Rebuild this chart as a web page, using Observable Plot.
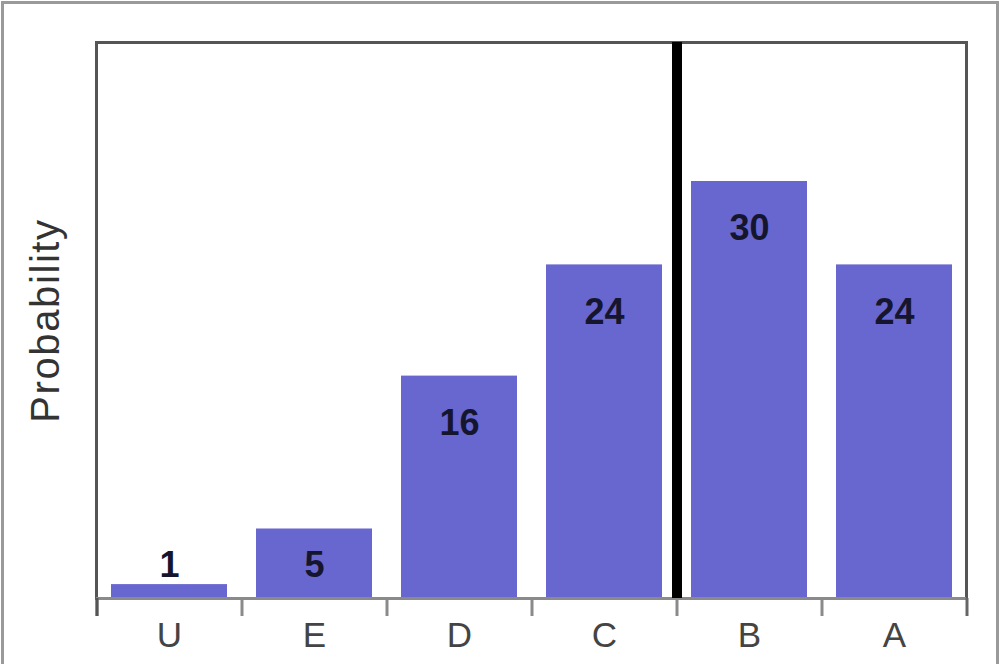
<!DOCTYPE html>
<html>
<head>
<meta charset="utf-8">
<script src="https://cdn.jsdelivr.net/npm/d3@7"></script>
<script src="https://cdn.jsdelivr.net/npm/@observablehq/plot@0.6"></script>
<style>
  html, body { margin: 0; padding: 0; background: #fff; }
  #wrap { position: relative; width: 1000px; height: 664px; overflow: hidden; }
  #border { position: absolute; left: 1px; top: 1px; right: 1px; bottom: -10px;
            border: 3px solid #9a9a9a; pointer-events: none; }
  svg { font-family: "Liberation Sans", Arial, sans-serif; }
</style>
</head>
<body>
<div id="wrap"><div id="border"></div></div>
<script>
// Data
const grades = ["U", "E", "D", "C", "B", "A"];
const probabilities = [1, 5, 16, 24, 30, 24];
const dividerBefore = "B";
const yLabel = "Probability";

const data = grades.map((g, i) => ({grade: g, value: probabilities[i]}));

const W = 1000, H = 664;
const mL = 96, mR = 34, mT = 42, mB = 66;
const step = (W - mL - mR) / grades.length;

const chart = Plot.plot({
  width: W,
  height: H,
  marginLeft: mL,
  marginRight: mR,
  marginTop: mT,
  marginBottom: mB,
  style: {fontFamily: "'Liberation Sans', Arial, sans-serif", background: "transparent"},
  x: {domain: grades, paddingInner: 0.2, paddingOuter: 0.1, axis: null},
  y: {domain: [0, 40], axis: null},
  marks: [
    Plot.barY(data, {x: "grade", y: "value", fill: "#6767cf"}),
    Plot.frame({stroke: "#555", strokeWidth: 3}),
    Plot.ruleY([0], {stroke: "#8a8a8a", strokeWidth: 3}),
    // tick marks at band boundaries
    Plot.ruleX(grades, {x: d => d, dx: -step / 2, y1: 0, y2: 0, insetBottom: -18, stroke: "#8a8a8a", strokeWidth: 3}),
    Plot.ruleX([grades[grades.length - 1]], {x: d => d, dx: step / 2, y1: 0, y2: 0, insetBottom: -18, stroke: "#666", strokeWidth: 3}),
    Plot.ruleX([grades[0]], {x: d => d, dx: -step / 2, y1: 0, y2: 0, insetBottom: -18, stroke: "#555", strokeWidth: 3}),
    // divider line
    Plot.ruleX([dividerBefore], {x: d => d, dx: -step / 2, stroke: "#000", strokeWidth: 10}),
    // value labels
    Plot.text(data, {
      x: "grade",
      y: d => Math.max(d.value - 3.4, 2.4),
      text: d => String(d.value),
      fontSize: 36,
      fontWeight: "bold",
      fill: "#15152e"
    }),
    // category labels
    Plot.text(grades, {x: d => d, y: 0, dy: 37, text: d => d, fontSize: 35, fill: "#444"}),
    // y label
    Plot.text([yLabel], {frameAnchor: "left", textAnchor: "middle", dx: -50, rotate: -90, fontSize: 40, fill: "#333"})
  ]
});

document.getElementById("wrap").prepend(chart);
// letter spacing for y label
chart.querySelectorAll("text").forEach(t => {
  if (t.textContent === yLabel) t.setAttribute("letter-spacing", "1.6");
});
</script>
</body>
</html>
